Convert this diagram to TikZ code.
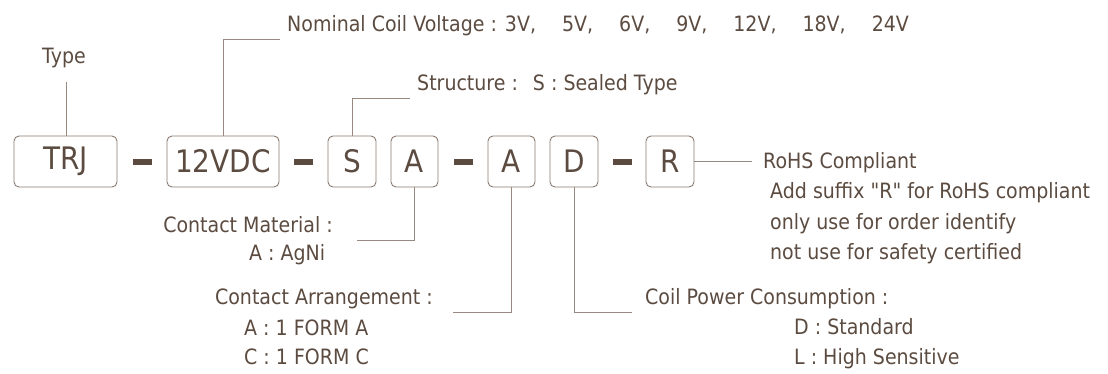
\documentclass[tikz,border=0pt]{standalone}
\usepackage{fontspec}
\setmainfont{DejaVu Sans}[Ligatures=TeXOff,FakeStretch=0.9]
\usetikzlibrary{calc}
\definecolor{txt}{HTML}{5B4B40}
\definecolor{ln}{HTML}{978880}
\definecolor{bx}{HTML}{8A7A70}
\definecolor{dk}{HTML}{5A4A3F}
\newcommand{\vsep}{,\hspace{26pt}}
\begin{document}
\begin{tikzpicture}[x=1pt,y=-1pt,
  code/.style={draw=bx,line width=0.9pt,rounded corners=5pt,inner sep=0pt,
    minimum height=51pt,text=txt,font=\fontsize{31}{31}\selectfont},
  lab/.style={inner sep=0pt,text=txt,font=\fontsize{21.1}{21}\selectfont},
  dashmark/.style={fill=dk,inner sep=0pt,minimum width=19pt,minimum height=6pt},
  conn/.style={draw=ln,line width=0.9pt}]
\useasboundingbox (0,0) rectangle (1108,373);
% code boxes
\node[code,minimum width=103pt] (trj) at (65.5,161.5) {TRJ};
\node[code,minimum width=112pt] (volt) at (223,161.5) {12VDC};
\node[code,minimum width=48pt] (s) at (352,161.5) {S};
\node[code,minimum width=47pt] (a1) at (414.5,161.5) {A};
\node[code,minimum width=47pt] (a2) at (511.5,161.5) {A};
\node[code,minimum width=48pt] (d) at (574,161.5) {D};
\node[code,minimum width=48pt] (r) at (670,161.5) {R};
% dashes
\node[dashmark] (m1) at ($(trj.east)!0.5!(volt.west)$) {};
\node[dashmark] (m2) at ($(volt.east)!0.5!(s.west)$) {};
\node[dashmark] (m3) at ($(a1.east)!0.5!(a2.west)$) {};
\node[dashmark] (m4) at ($(d.east)!0.5!(r.west)$) {};
% labels
\node[lab,anchor=base] (type) at (64,63.5) {Type};
\node[lab,anchor=base west] (nom) at (287,31.5) {Nominal Coil Voltage : 3V\vsep 5V\vsep 6V\vsep 9V\vsep 12V\vsep 18V\vsep 24V};
\node[lab,anchor=base west] (str) at (417,90.5) {Structure :\hspace{15pt}S : Sealed Type};
\node[lab,anchor=base east] (cm) at (333,232.5) {Contact Material :};
\node[lab,anchor=base west] (cm1) at (249,260.5) {A : AgNi};
\node[lab,anchor=base east] (ca) at (433,304.5) {Contact Arrangement :};
\node[lab,anchor=base west] (ca1) at (244,335.5) {A : 1 FORM A};
\node[lab,anchor=base west] (ca2) at (244,364.5) {C : 1 FORM C};
\node[lab,anchor=base west] (cp) at (645,304.5) {Coil Power Consumption :};
\node[lab,anchor=base west] (cp1) at (794,334.5) {D : Standard};
\node[lab,anchor=base west] (cp2) at (794,364.5) {L : High Sensitive};
\node[lab,anchor=base west] (ro) at (763,168.5) {RoHS Compliant};
\node[lab,anchor=base west] (ro1) at (770,198.5) {Add suffix "R" for RoHS compliant};
\node[lab,anchor=base west] (ro2) at (770,229.5) {only use for order identify};
\node[lab,anchor=base west] (ro3) at (770,259.5) {not use for safety certified};
% connectors
\coordinate (typeEnd) at (66,82);
\draw[conn] (trj.north -| typeEnd) -- (typeEnd);
\draw[conn] (volt.north) |- ([xshift=-7pt,yshift=-7.5pt]nom.base west);
\draw[conn] (s.north) |- ([xshift=-7pt,yshift=-7.5pt]str.base west);
\draw[conn] (a1.south) |- ([xshift=24pt,yshift=-7.5pt]cm.base east);
\draw[conn] (a2.south) |- ([xshift=20pt,yshift=-7.5pt]ca.base east);
\draw[conn] (d.south) |- ([xshift=-13pt,yshift=-7.5pt]cp.base west);
\draw[conn] (r.east) -- ([xshift=-11pt]r.east -| ro.west);
\end{tikzpicture}
\end{document}
